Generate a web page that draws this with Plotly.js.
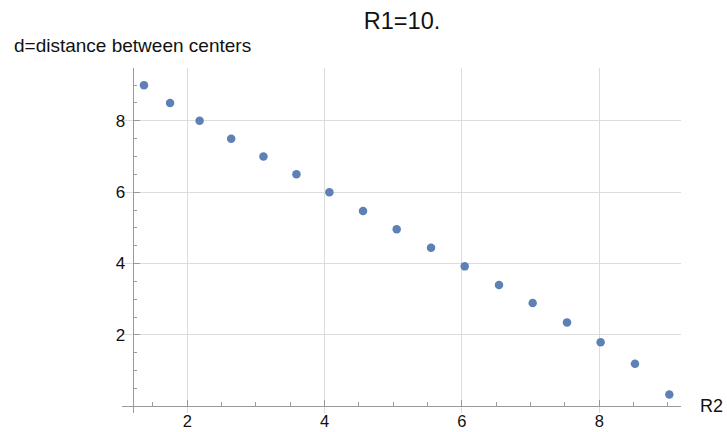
<!DOCTYPE html>
<html>
<head>
<meta charset="utf-8">
<script src="https://cdn.plot.ly/plotly-3.0.1.min.js"></script>
<style>html,body{margin:0;padding:0;background:#fff;}#chart{width:727px;height:432px;}</style>
</head>
<body>
<div id="chart"></div>
<script>
// Data
const r2Values = [1.37, 1.75, 2.18, 2.64, 3.11, 3.59, 4.07, 4.56, 5.05, 5.55, 6.04, 6.54, 7.03, 7.53, 8.02, 8.52, 9.02];
const dValues  = [9.0, 8.5, 8.0, 7.5, 7.0, 6.5, 6.0, 5.47, 4.96, 4.44, 3.92, 3.40, 2.89, 2.35, 1.79, 1.19, 0.33];
const xTicks = [2, 4, 6, 8];
const yTicks = [2, 4, 6, 8];
const titleText = "R1=10.";
const xLabel = "R2";
const yLabel = "d=distance between centers";

const font = "Liberation Sans, Arial, Helvetica, sans-serif";
const axisGray = "#9a9a9a";
const gridGray = "#dcdcdc";

const trace = {
  x: r2Values, y: dValues, type: "scatter", mode: "markers",
  marker: {color: "#5E81B5", size: 8.5},
  hoverinfo: "skip"
};

const layout = {
  width: 727, height: 432,
  margin: {l: 122, r: 46, t: 68, b: 19},
  paper_bgcolor: "#fff", plot_bgcolor: "#fff",
  showlegend: false,
  font: {family: font, size: 17, color: "#111"},
  title: {text: titleText, font: {family: font, size: 23.5, color: "#111"},
          x: 0.553, xref: "container", xanchor: "center",
          y: 0.951, yref: "container", yanchor: "middle"},
  xaxis: {
    range: [1.05, 9.19], anchor: "free", position: 0.0209,
    tickmode: "array", tickvals: xTicks, ticktext: xTicks.map(String),
    ticks: "inside", ticklen: 6, tickwidth: 1, tickcolor: axisGray,
    minor: {dtick: 0.5, tick0: 0, ticks: "inside", ticklen: 3.5, tickcolor: axisGray, showgrid: false},
    showline: true, linecolor: axisGray, linewidth: 1,
    showgrid: true, gridcolor: gridGray, gridwidth: 1,
    zeroline: false, tickfont: {size: 16.5, color: "#111"}, ticklabelstandoff: 0
  },
  yaxis: {
    range: [-0.19, 9.48], anchor: "free", position: 0.0191,
    tickmode: "array", tickvals: yTicks, ticktext: yTicks.map(String),
    ticks: "inside", ticklen: 6, tickwidth: 1, tickcolor: axisGray,
    minor: {dtick: 0.5, tick0: 0, ticks: "inside", ticklen: 3.5, tickcolor: axisGray, showgrid: false},
    showline: true, linecolor: axisGray, linewidth: 1,
    showgrid: true, gridcolor: gridGray, gridwidth: 1,
    zeroline: false, tickfont: {size: 17, color: "#111"}, ticklabelstandoff: 4
  },
  annotations: [
    {text: yLabel, xref: "paper", yref: "paper", x: -0.197, y: 1.064,
     xanchor: "left", yanchor: "middle", showarrow: false,
     font: {family: font, size: 19, color: "#111"}},
    {text: xLabel, xref: "paper", yref: "paper", x: 1.030, y: 0.0209,
     xanchor: "left", yanchor: "middle", showarrow: false,
     font: {family: font, size: 18, color: "#111"}}
  ]
};

Plotly.newPlot("chart", [trace], layout, {staticPlot: true, displayModeBar: false});
</script>
</body>
</html>
